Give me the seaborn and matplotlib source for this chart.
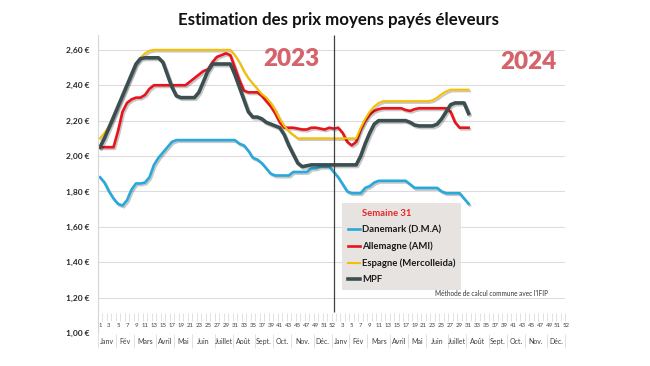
import numpy as np
import pandas as pd
import matplotlib
matplotlib.use("Agg")
import matplotlib.pyplot as plt
import matplotlib.patheffects as pe
from matplotlib.lines import Line2D
import seaborn as sns

plt.rcParams["font.family"] = ["Lato", "DejaVu Sans"]

# --- data: weekly prices (€/kg), 2023 weeks 1-52 then 2024 weeks 1-31 ---
danemark_2023 = [1.88, 1.85, 1.80, 1.76, 1.73, 1.72, 1.75, 1.81, 1.845, 1.845,
                 1.85, 1.88, 1.95, 1.99, 2.02, 2.05, 2.08, 2.09, 2.09, 2.09,
                 2.09, 2.09, 2.09, 2.09, 2.09, 2.09, 2.09, 2.09, 2.09, 2.09,
                 2.09, 2.07, 2.06, 2.03, 1.99, 1.98, 1.96, 1.93, 1.90, 1.89,
                 1.89, 1.89, 1.89, 1.91, 1.91, 1.91, 1.91, 1.93, 1.93, 1.94,
                 1.94, 1.94]
danemark_2024 = [1.91, 1.88, 1.84, 1.80, 1.79, 1.79, 1.79, 1.82, 1.83, 1.85,
                 1.86, 1.86, 1.86, 1.86, 1.86, 1.86, 1.86, 1.84, 1.82, 1.82,
                 1.82, 1.82, 1.82, 1.82, 1.80, 1.79, 1.79, 1.79, 1.79, 1.76,
                 1.73]

allemagne_2023 = [2.05, 2.05, 2.05, 2.05, 2.14, 2.25, 2.30, 2.32, 2.33, 2.33,
                  2.345, 2.38, 2.40, 2.40, 2.40, 2.40, 2.40, 2.40, 2.40, 2.40,
                  2.42, 2.44, 2.46, 2.48, 2.49, 2.53, 2.56, 2.57, 2.58, 2.57,
                  2.50, 2.43, 2.37, 2.36, 2.36, 2.36, 2.34, 2.31, 2.28, 2.24,
                  2.19, 2.16, 2.16, 2.16, 2.155, 2.15, 2.15, 2.16, 2.16, 2.155,
                  2.15, 2.16]
allemagne_2024 = [2.155, 2.16, 2.13, 2.08, 2.06, 2.08, 2.15, 2.20, 2.235, 2.255,
                  2.265, 2.27, 2.27, 2.27, 2.27, 2.27, 2.26, 2.255, 2.265, 2.27,
                  2.27, 2.27, 2.27, 2.27, 2.27, 2.27, 2.25, 2.19, 2.16, 2.16,
                  2.16]

espagne_2023 = [2.10, 2.13, 2.17, 2.22, 2.28, 2.34, 2.40, 2.46, 2.52, 2.555,
                2.58, 2.595, 2.60, 2.60, 2.60, 2.60, 2.60, 2.60, 2.60, 2.60,
                2.60, 2.60, 2.60, 2.60, 2.60, 2.60, 2.60, 2.60, 2.60, 2.60,
                2.57, 2.53, 2.48, 2.44, 2.41, 2.38, 2.35, 2.33, 2.30, 2.26,
                2.21, 2.17, 2.14, 2.12, 2.10, 2.10, 2.10, 2.10, 2.10, 2.10,
                2.10, 2.10]
espagne_2024 = [2.10, 2.10, 2.10, 2.10, 2.10, 2.10, 2.16, 2.21, 2.25, 2.28,
                2.30, 2.31, 2.31, 2.31, 2.31, 2.31, 2.31, 2.31, 2.31, 2.31,
                2.31, 2.31, 2.315, 2.33, 2.35, 2.365, 2.375, 2.375, 2.375, 2.375,
                2.375]

mpf_2023 = [2.05, 2.10, 2.16, 2.22, 2.28, 2.34, 2.40, 2.46, 2.52, 2.55,
            2.555, 2.555, 2.555, 2.555, 2.53, 2.46, 2.39, 2.34, 2.33, 2.33,
            2.33, 2.33, 2.36, 2.42, 2.48, 2.52, 2.52, 2.52, 2.52, 2.52,
            2.46, 2.39, 2.32, 2.25, 2.22, 2.22, 2.21, 2.19, 2.18, 2.17,
            2.16, 2.12, 2.06, 2.01, 1.96, 1.94, 1.945, 1.95, 1.95, 1.95,
            1.95, 1.95]
mpf_2024 = [1.95, 1.95, 1.95, 1.95, 1.95, 1.95, 2.00, 2.07, 2.13, 2.18,
            2.20, 2.20, 2.20, 2.20, 2.20, 2.20, 2.20, 2.19, 2.175, 2.17,
            2.17, 2.17, 2.17, 2.18, 2.21, 2.25, 2.29, 2.30, 2.30, 2.30,
            2.24]

series_names = ["Danemark (D.M.A)", "Allemagne (AMI)", "Espagne (Mercolleida)", "MPF"]
series_values = [danemark_2023 + danemark_2024,
                 allemagne_2023 + allemagne_2024,
                 espagne_2023 + espagne_2024,
                 mpf_2023 + mpf_2024]
colors = ["#27a9dc", "#e8141c", "#f5c000", "#3c4f50"]
widths = [1.9, 1.9, 1.5, 2.6]

months = ["Janv", "Fév", "Mars", "Avril", "Mai", "Juin", "Juillet", "Août",
          "Sept.", "Oct.", "Nov.", "Déc."]
month_start_week = [1, 5, 9, 14, 18, 22, 27, 31, 36, 40, 44, 49]
n_weeks = 52
y_ticks = [1.0, 1.2, 1.4, 1.6, 1.8, 2.0, 2.2, 2.4, 2.6]

# --- figure ---
fig = plt.figure(figsize=(6.5, 3.66), dpi=100)
W, H = 650, 366
ax_top, ax_bot = 34.8, 333
ax = fig.add_axes([97.75 / W, (H - ax_bot) / H, 467.5 / W, (ax_bot - ax_top) / H])

shadow = [pe.SimpleLineShadow(offset=(1.0, -1.2), shadow_color="black", alpha=0.22),
          pe.Normal()]
for name, vals, col, lw in zip(series_names, series_values, colors, widths):
    df = pd.DataFrame({"idx": np.arange(len(vals)), "prix": vals})
    sns.lineplot(data=df, x="idx", y="prix", color=col, linewidth=lw, ax=ax,
                 estimator=None, sort=False, legend=False)
    ax.lines[-1].set_path_effects(shadow)
    ax.lines[-1].set_solid_joinstyle("round")

ax.set_xlim(-0.5, 2 * n_weeks - 0.5)
ax.set_ylim(1.0, 2.685)
ax.set_xlabel("")
ax.set_ylabel("")
ax.set_xticks([])
ax.set_yticks(y_ticks)
ax.set_yticklabels([f"{v:.2f} €".replace(".", ",") for v in y_ticks],
                   fontsize=6, fontweight="bold", color="#262626")
ax.tick_params(axis="y", length=0, pad=6)
ax.yaxis.grid(True, color="#dcdcdc", linewidth=0.8)
ax.set_axisbelow(True)
for s in ["top", "right", "bottom"]:
    ax.spines[s].set_visible(False)
ax.spines["left"].set_color("#d6d6d6")
ax.spines["left"].set_linewidth(0.8)

trans = ax.get_xaxis_transform()
def ay(px):
    return (ax_bot - px) / (ax_bot - ax_top)

# year separator
ax.vlines(n_weeks, ay(311.7), 1.0, transform=trans, color="#404040", linewidth=0.9)

# category table under the plot
bounds = np.arange(2 * n_weeks + 1) - 0.5
ax.vlines(bounds, ay(321), ay(313), transform=trans, color="#d4d4d4",
          linewidth=0.5, clip_on=False)
for year in range(2):
    off = year * n_weeks
    weeks = [w for w in range(1, n_weeks + 1) if w % 2 == 1 or w == n_weeks]
    if year == 1:
        weeks = weeks[1:]
    for w in weeks:
        nudge = {51: -0.25, 52: 0.6}.get(w, 0)
        ax.text(off + w - 1 + nudge, ay(325.5), str(w), transform=trans,
                ha="center", va="center", fontsize=4.3, color="#404040",
                clip_on=False)
    ends = month_start_week[1:] + [n_weeks + 1]
    for m, s, e in zip(months, month_start_week, ends):
        ax.text(off + (s + e - 1) / 2 - 1, ay(341.5), m, transform=trans,
                ha="center", va="center", fontsize=5, color="#404040", clip_on=False)
        ax.vlines(off + s - 1.5, ay(348), ay(334), transform=trans,
                  color="#d4d4d4", linewidth=0.5, clip_on=False)
ax.vlines(2 * n_weeks - 0.5, ay(348), ay(334), transform=trans,
          color="#d4d4d4", linewidth=0.5, clip_on=False)

# legend
handles = [Line2D([], [], color="none", label="Semaine 31")]
for name, col, lw in zip(series_names, colors, widths):
    handles.append(Line2D([], [], color=col, linewidth=lw, label=name))
leg = ax.legend(handles=handles, loc="upper left",
                bbox_to_anchor=((342 - 97.75) / 467.5, ay(203)),
                borderaxespad=0, frameon=True, fancybox=False,
                facecolor="#e6e3e0", edgecolor="none", framealpha=1,
                handlelength=1.35, handletextpad=0.15, labelspacing=0.78,
                borderpad=0.6, prop={"size": 6.8, "weight": "bold"})
for i, t in enumerate(leg.get_texts()):
    t.set_color("#e8262a" if i == 0 else "#1a1a1a")

# annotations
fig.text(339 / W, 1 - 20.5 / H, "Estimation des prix moyens payés éleveurs",
         ha="center", va="center", fontsize=12.2, fontweight="bold", color="#111111")
fig.text(291 / W, 1 - 58.5 / H, "2023", ha="center", va="center",
         fontsize=17.5, fontweight="heavy", color="#d5636b")
fig.text(528 / W, 1 - 62 / H, "2024", ha="center", va="center",
         fontsize=17.5, fontweight="heavy", color="#d5636b")
fig.text(435 / W, 1 - 294 / H, "Méthode de calcul commune avec l'IFIP",
         ha="left", va="center", fontsize=4.7, color="#333333")

fig.savefig("out.png", dpi=100, facecolor="white")
